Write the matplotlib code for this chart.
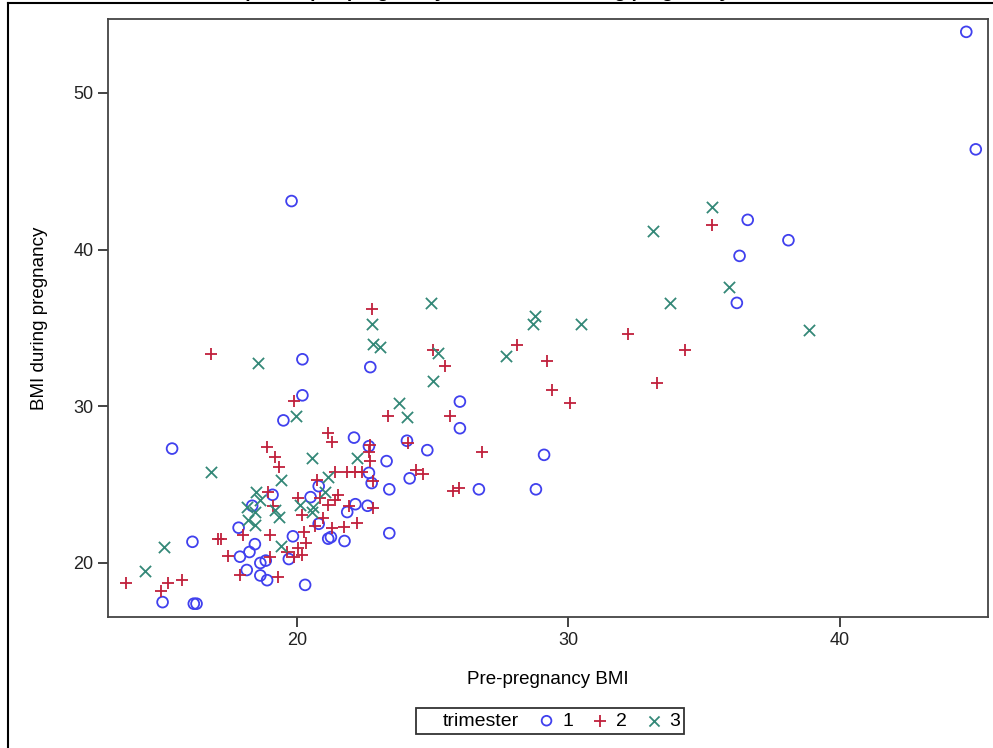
import matplotlib.pyplot as plt
from matplotlib.lines import Line2D

plt.rcParams['font.family'] = ['Liberation Sans', 'DejaVu Sans']

# trimester 1 (circles)
t1_pre = [44.65, 45.0, 19.8, 36.6, 38.1, 36.3, 36.2, 20.2, 22.7, 20.2, 19.5, 26.0, 26.0, 15.4,
          22.1, 22.65, 24.05, 24.8, 23.3, 22.65, 22.75, 24.15, 23.4, 29.1, 28.8, 26.7, 20.8, 20.5,
          21.85, 22.15, 22.6, 20.8, 21.15, 21.25, 21.75, 23.4, 19.85, 19.7, 20.3, 19.1, 18.35,
          17.85, 16.15, 18.45, 18.25, 17.9, 18.65, 18.85, 18.15, 18.65, 18.9, 16.2, 16.3, 15.05]
t1_dur = [53.9, 46.4, 43.1, 41.9, 40.6, 39.6, 36.6, 33.0, 32.5, 30.7, 29.1, 30.3, 28.6, 27.3,
          28.0, 27.45, 27.8, 27.2, 26.5, 25.75, 25.1, 25.4, 24.7, 26.9, 24.7, 24.7, 24.9, 24.2,
          23.25, 23.75, 23.65, 22.5, 21.55, 21.65, 21.4, 21.9, 21.7, 20.25, 18.6, 24.35, 23.65,
          22.25, 21.35, 21.2, 20.7, 20.4, 20.0, 20.15, 19.55, 19.2, 18.9, 17.4, 17.4, 17.5]

# trimester 2 (plus)
t2_pre = [18.9, 19.2, 19.35, 18.95, 18.0, 17.1, 17.2, 17.45, 19.0, 19.0, 17.9, 19.3, 15.75,
          15.25, 15.0, 13.7, 19.1, 21.15, 21.3, 22.7, 22.65, 22.7, 21.4, 21.85, 22.15, 22.4,
          22.8, 20.75, 20.05, 20.85, 21.5, 21.4, 21.9, 22.8, 21.15, 20.2, 20.95, 20.65, 21.3,
          21.75, 22.2, 20.25, 20.35, 20.05, 20.2, 19.9, 19.65, 23.35, 24.1, 24.4, 24.65, 25.65,
          25.75, 25.95, 26.8, 22.75, 25.0, 25.45, 28.1, 29.2, 29.4, 30.05, 32.2, 34.3, 33.25,
          35.3, 16.85, 19.9]
t2_dur = [27.4, 26.75, 26.1, 24.5, 21.8, 21.55, 21.5, 20.45, 21.8, 20.4, 19.25, 19.1, 18.9,
          18.7, 18.2, 18.7, 23.65, 28.3, 27.7, 27.5, 27.1, 26.5, 25.8, 25.8, 25.8, 25.8,
          25.2, 25.3, 24.15, 24.15, 24.35, 24.0, 23.65, 23.5, 23.7, 23.05, 22.85, 22.35, 22.25,
          22.3, 22.55, 22.0, 21.3, 20.95, 20.5, 20.4, 20.7, 29.4, 27.65, 25.95, 25.7, 29.4,
          24.6, 24.8, 27.1, 36.2, 33.6, 32.6, 33.9, 32.9, 31.05, 30.2, 34.6, 33.6, 31.5,
          41.6, 33.35, 30.35]

# trimester 3 (x)
t3_pre = [35.3, 33.1, 35.9, 33.75, 38.85, 24.95, 22.75, 22.8, 23.05, 25.2, 25.0, 27.7, 28.75,
          28.7, 30.45, 23.75, 24.05, 18.55, 19.95, 14.4, 15.1, 16.85, 20.55, 22.2, 19.4, 21.15,
          21.05, 20.1, 20.6, 20.55, 19.4, 19.2, 19.35, 18.5, 18.65, 18.15, 18.45, 18.2, 18.45]
t3_dur = [42.7, 41.2, 37.6, 36.6, 34.9, 36.6, 35.25, 34.0, 33.8, 33.4, 31.6, 33.2, 35.75,
          35.25, 35.25, 30.2, 29.3, 32.75, 29.4, 19.5, 21.0, 25.8, 26.7, 26.7, 25.3, 25.5,
          24.5, 23.7, 23.55, 23.25, 21.1, 23.4, 22.95, 24.5, 24.0, 23.55, 23.25, 22.75, 22.45]

fig = plt.figure(figsize=(9.93, 7.48), dpi=100)
ax = fig.add_axes([108 / 993, 1 - 617 / 748, (988 - 108) / 993, (617 - 19) / 748])

h1 = ax.scatter(t1_pre, t1_dur, marker='o', s=60, facecolors='none', edgecolors='#4040EE', linewidths=1.3)
h2 = ax.scatter(t2_pre, t2_dur, marker='+', s=80, c='#C0203C', linewidths=1.3)
h3 = ax.scatter(t3_pre, t3_dur, marker='x', s=65, c='#348878', linewidths=1.3)

ax.set_xlim(13.04, 45.45)
ax.set_ylim(16.55, 54.72)
ax.set_xticks([20, 30, 40])
ax.set_yticks([20, 30, 40, 50])
ax.tick_params(direction='out', length=7, width=1.2, labelsize=13, colors='#222222')
for side in ['top', 'right', 'left', 'bottom']:
    ax.spines[side].set_color('#444444')
    ax.spines[side].set_linewidth(1.3)

ax.set_xlabel('Pre-pregnancy BMI', fontsize=13.5, labelpad=16)
ax.set_ylabel('BMI during pregnancy', fontsize=13.5, labelpad=18)

# legend with inline title
blank = Line2D([], [], linestyle='none')
leg = fig.legend([blank, h1, h2, h3], ['trimester', '1', '2', '3'], ncol=4,
                 loc='center', bbox_to_anchor=(550 / 993, 1 - 721 / 748), fontsize=14,
                 frameon=True, fancybox=False, edgecolor='black', handlelength=0.8,
                 handletextpad=0.4, columnspacing=1.0, borderpad=0.2, markerscale=0.9)
leg.get_frame().set_linewidth(1.3)

# outer frame (partially visible) and clipped title
fig.add_artist(Line2D([8 / 993, 8 / 993], [0, 1 - 3 / 748], color='black', lw=1.5))
fig.add_artist(Line2D([8 / 993, 1], [1 - 3 / 748, 1 - 3 / 748], color='black', lw=1.5))
fig.text(455 / 993, 1 + 3 / 748, 'Scatterplot of pre-pregnancy BMI vs. BMI during pregnancy',
         ha='center', va='baseline', fontsize=14, fontweight='bold')

fig.savefig('out.png', dpi=100)
